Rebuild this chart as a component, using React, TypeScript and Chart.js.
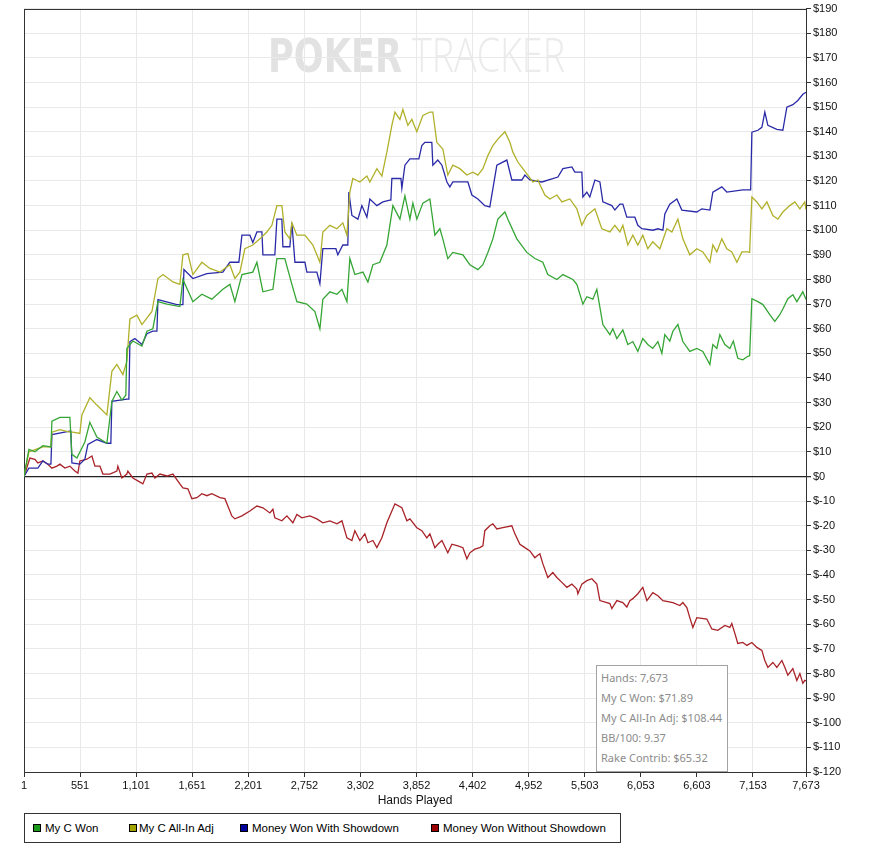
import React, { useEffect, useRef } from 'react';
import { Chart, registerables } from 'chart.js';

Chart.register(...registerables);

// ---- Axis ticks ----
const xTickValues = [1, 551, 1101, 1651, 2201, 2752, 3302, 3852, 4402, 4952, 5503, 6053, 6603, 7153, 7673];
const yMin = -120;
const yMax = 190;
const yStep = 10;

// ---- Series: My C Won ----
const wonHands = [1, 10, 49, 108, 186, 265, 275, 353, 451, 471, 520, 598, 647, 716, 795, 814, 863, 912, 961, 1000, 1010, 1069, 1158, 1207, 1265, 1315, 1403, 1530, 1560, 1658, 1746, 1844, 1952, 2021, 2070, 2139, 2246, 2286, 2345, 2443, 2482, 2560, 2629, 2678, 2776, 2855, 2904, 2933, 3002, 3071, 3120, 3169, 3198, 3247, 3326, 3375, 3424, 3492, 3561, 3620, 3689, 3738, 3787, 3816, 3855, 3914, 3983, 4002, 4032, 4081, 4110, 4159, 4208, 4307, 4375, 4454, 4503, 4552, 4601, 4650, 4719, 4748, 4836, 4934, 5013, 5091, 5140, 5229, 5288, 5386, 5425, 5484, 5523, 5582, 5621, 5680, 5749, 5778, 5817, 5876, 5925, 5974, 6023, 6072, 6121, 6170, 6220, 6259, 6288, 6337, 6367, 6416, 6465, 6533, 6602, 6661, 6730, 6759, 6798, 6828, 6877, 6926, 6960, 7004, 7053, 7102, 7120, 7142, 7201, 7250, 7318, 7367, 7416, 7446, 7495, 7544, 7583, 7642, 7673];
const wonValues = [0, 0, 11, 10, 12.5, 12, 22.5, 24, 24, 9, 7.5, 14, 22, 16, 14, 13.5, 30.5, 34.5, 31, 33, 52, 55, 53, 59, 60, 71, 70, 69, 80, 71, 74, 72, 76, 78, 71, 82, 83, 87, 75, 76, 88.5, 88.5, 78, 71, 70, 67, 60, 72, 75, 74, 76, 71, 88.5, 82, 83, 79, 86, 87, 94, 110, 104.5, 114, 104.5, 111, 104.5, 111, 112.7, 107, 98, 100.6, 96.5, 88.5, 91, 90, 86, 84, 86, 91, 96.5, 104.5, 107.4, 104.5, 96.5, 91, 88.5, 87, 82, 80, 82, 80, 78, 70, 73, 72, 76, 61.7, 57.6, 60, 56, 59.5, 53.6, 54.8, 50.8, 56, 53.6, 52, 54.8, 50, 57.6, 55, 59, 61.7, 54.8, 50.8, 52, 50.8, 45.5, 53.6, 52, 57.6, 53.6, 52, 55, 48, 47.4, 48.8, 49, 72.2, 71, 69.8, 65.7, 63, 65.7, 68, 72.2, 73.8, 71, 75, 71.89];

// ---- Series: My C All-In Adj ----
const allInHands = [1, 49, 186, 265, 275, 353, 451, 480, 549, 569, 647, 716, 814, 863, 912, 971, 1010, 1040, 1109, 1158, 1256, 1315, 1364, 1462, 1530, 1560, 1609, 1658, 1746, 1825, 1923, 2021, 2070, 2119, 2168, 2246, 2315, 2384, 2433, 2482, 2531, 2560, 2609, 2629, 2678, 2757, 2835, 2904, 2933, 3002, 3071, 3129, 3169, 3198, 3227, 3296, 3365, 3394, 3463, 3512, 3561, 3610, 3640, 3689, 3718, 3767, 3806, 3855, 3914, 3983, 4012, 4051, 4110, 4159, 4208, 4277, 4346, 4405, 4454, 4503, 4552, 4601, 4650, 4719, 4768, 4797, 4846, 4895, 4944, 4993, 5042, 5111, 5160, 5229, 5278, 5356, 5425, 5474, 5523, 5602, 5670, 5749, 5798, 5847, 5876, 5925, 5974, 6023, 6072, 6121, 6170, 6239, 6308, 6357, 6416, 6465, 6533, 6602, 6661, 6730, 6759, 6798, 6847, 6896, 6945, 6995, 7044, 7102, 7120, 7142, 7191, 7240, 7289, 7348, 7397, 7446, 7514, 7564, 7613, 7661, 7673];
const allInValues = [0, 10, 12, 12, 18, 19, 18, 18, 17.5, 25, 32, 29, 25, 42.7, 45.5, 41.4, 46.7, 64, 65.5, 61.7, 67, 80.4, 82, 79, 78, 90, 90.5, 82, 87, 84.5, 83, 86, 80.4, 83, 92.5, 94, 96.5, 99.3, 102, 110, 110, 99.3, 96.5, 103, 98, 98, 94, 87, 99.3, 102, 100.6, 103, 98, 115.5, 121, 119.6, 122, 119.6, 125, 122, 131.7, 142.6, 148, 145, 149, 142.6, 145, 140, 146.6, 148, 148, 135.7, 133, 122.4, 126.4, 125, 122.4, 123.6, 122.4, 125, 130.3, 134.4, 137, 140, 135.7, 131.7, 127.7, 125, 122.4, 119.6, 120.4, 114.3, 112.7, 114.3, 111.5, 112.7, 108.7, 102, 106, 108.7, 100.6, 99.3, 102, 99.3, 102, 94, 98, 94, 98, 92.5, 95.3, 92.5, 100.6, 99.3, 104.5, 96.5, 90, 92.5, 91.2, 87, 94, 91.2, 96.5, 92.5, 91.2, 87, 91.2, 91.2, 91, 113.5, 111.5, 108.7, 111.5, 106, 104.5, 107.4, 110, 111.5, 108.7, 111.5, 108.44];

// ---- Series: Money Won With Showdown ----
const sdHands = [1, 49, 137, 186, 235, 265, 275, 451, 461, 471, 549, 598, 628, 716, 814, 853, 863, 1010, 1030, 1040, 1089, 1158, 1207, 1265, 1305, 1315, 1501, 1560, 1570, 1658, 1795, 1952, 2021, 2109, 2139, 2217, 2246, 2286, 2335, 2345, 2462, 2482, 2531, 2541, 2609, 2629, 2659, 2757, 2776, 2874, 2904, 2933, 3061, 3080, 3129, 3178, 3188, 3218, 3277, 3316, 3365, 3394, 3463, 3522, 3590, 3600, 3610, 3699, 3708, 3738, 3787, 3875, 3904, 3934, 4002, 4012, 4061, 4101, 4150, 4179, 4208, 4356, 4395, 4454, 4522, 4571, 4640, 4738, 4787, 4885, 4915, 4964, 5082, 5239, 5288, 5376, 5405, 5474, 5484, 5523, 5552, 5602, 5651, 5680, 5768, 5798, 5847, 5876, 5915, 5994, 6023, 6063, 6170, 6220, 6269, 6288, 6337, 6406, 6455, 6602, 6651, 6730, 6759, 6847, 6896, 7053, 7130, 7142, 7201, 7240, 7269, 7299, 7387, 7446, 7485, 7544, 7593, 7642, 7673];
const sdValues = [0, 3.4, 3.4, 6.3, 5, 5, 17, 18.4, 18.4, 5.5, 5, 7, 13, 15, 13.5, 13.5, 30.5, 31.4, 31.4, 54.8, 56, 53.6, 58, 59, 59, 71.8, 69.8, 69.8, 84, 80.4, 82.4, 83, 87, 87, 98, 98, 95, 99.3, 99.3, 90, 90, 104.5, 104.5, 93.3, 93.3, 103, 87, 87, 83, 83, 78.3, 92.5, 92.5, 90, 94, 94, 115.5, 106, 104.5, 110, 105.3, 112.7, 110, 111.5, 112.2, 112.2, 121, 121, 117, 126.4, 129, 129, 134.4, 135.7, 135.7, 126.4, 128.5, 126.4, 119.6, 117.6, 119.6, 119.6, 114.3, 112.7, 110, 109.5, 126.4, 128.5, 120.4, 120.4, 122.4, 120.4, 119.6, 121.6, 125, 125.7, 123.6, 123.6, 113.5, 115.5, 113.5, 120.4, 119.6, 111.5, 110, 108.2, 110.6, 110.6, 105.3, 105.3, 102, 100.6, 100, 100.6, 100, 106.6, 110.6, 112.7, 108.2, 107.4, 108.7, 108.2, 115.5, 117.6, 115.5, 116.4, 116.4, 139.8, 140.6, 141.8, 148, 142.6, 141, 140.6, 150, 151, 152.7, 155.2, 156];

// ---- Series: Money Won Without Showdown ----
const nsdHands = [1, 59, 108, 137, 186, 235, 275, 324, 353, 402, 451, 500, 530, 549, 618, 667, 697, 746, 775, 844, 912, 922, 961, 1010, 1020, 1069, 1118, 1167, 1207, 1256, 1285, 1334, 1403, 1462, 1530, 1560, 1609, 1648, 1697, 1746, 1795, 1844, 1923, 1972, 2040, 2070, 2139, 2217, 2286, 2345, 2413, 2443, 2462, 2531, 2580, 2639, 2678, 2727, 2806, 2874, 2933, 3002, 3071, 3120, 3169, 3218, 3247, 3296, 3345, 3375, 3424, 3463, 3512, 3561, 3610, 3640, 3708, 3757, 3787, 3855, 3904, 3953, 3983, 4032, 4061, 4101, 4159, 4199, 4258, 4307, 4346, 4375, 4424, 4473, 4503, 4522, 4571, 4601, 4640, 4699, 4787, 4817, 4866, 4915, 4964, 5013, 5042, 5062, 5091, 5140, 5189, 5229, 5278, 5327, 5376, 5425, 5435, 5474, 5523, 5572, 5621, 5651, 5719, 5749, 5768, 5817, 5876, 5915, 5945, 5974, 6023, 6072, 6112, 6170, 6220, 6269, 6367, 6435, 6465, 6504, 6533, 6563, 6602, 6700, 6749, 6808, 6877, 6926, 6945, 6975, 7004, 7053, 7093, 7142, 7191, 7240, 7269, 7299, 7348, 7387, 7436, 7465, 7495, 7544, 7583, 7613, 7642, 7661, 7673];
const nsdValues = [0, 7.5, 7, 5.5, 6.3, 5, 3.4, 4.2, 5, 3.4, 4.2, 2.2, 1.4, 6.3, 7, 8.3, 4.2, 4.2, 1, 1, 2.2, 4.2, -0.6, 1, 2.2, -0.6, -1.8, -3, 1, 1.4, -0.6, 1, 0.2, 1, -3, -4.6, -5, -9, -8.6, -7, -7.8, -7, -8.6, -9, -16, -17.2, -16, -14, -12, -12.7, -14.8, -13.3, -16.8, -18, -16, -18.8, -15.4, -16.8, -16, -17.2, -18.8, -18, -19.2, -18, -24.9, -26, -22, -26, -23.3, -26.9, -26, -28.9, -24.9, -18.8, -14, -11.1, -12.7, -18, -17.2, -20.8, -22, -24.9, -23.3, -28.9, -27.5, -26, -31, -27.5, -28.2, -28.9, -33.4, -31, -29.5, -28.9, -28.2, -22, -20, -19.2, -21.3, -20.8, -20, -23.3, -27.5, -28.9, -30.2, -33, -32, -31.4, -35.4, -41, -39, -41, -43, -45, -43.7, -45.7, -47.6, -43.7, -42.3, -41.5, -43.7, -50.4, -51.2, -51.6, -53.6, -50.4, -51.2, -53, -50.4, -49.6, -47.6, -45, -50.4, -47.2, -48.4, -50.4, -51.2, -52.4, -51.2, -53.2, -57.3, -61.3, -57.3, -57.9, -61.9, -62.5, -60.5, -61.3, -59.7, -63.7, -67.8, -67.4, -68.6, -67.4, -69.4, -70.6, -74.7, -77.5, -75.5, -77.5, -74.7, -77.5, -80.7, -78, -82.8, -80, -84, -82.8, -83];

// ---- Legend / info text ----
const seriesNames = ['My C Won', 'My C All-In Adj', 'Money Won With Showdown', 'Money Won Without Showdown'];
const lineColors = ['#35a535', '#b0b02a', '#2a2aa8', '#a82228'];
const legendSwatch = ['#1c9a1c', '#a3a300', '#00009a', '#9a0000'];
const infoLines = ['Hands: 7,673', 'My C Won: $71.89', 'My C All-In Adj: $108.44', 'BB/100: 9.37', 'Rake Contrib: $65.32'];

const toPoints = (hs: number[], vs: number[]) => hs.map((h, i) => ({ x: h, y: vs[i] }));

const TICK_FONT = { family: '"Liberation Sans", Arial, sans-serif', size: 11 };

const framePlugin = {
  id: 'frame',
  beforeDatasetsDraw(chart: any) {
    const { ctx, chartArea: a } = chart;
    ctx.save();
    ctx.strokeStyle = '#333';
    ctx.lineWidth = 1;
    ctx.strokeRect(Math.round(a.left) + 0.5, Math.round(a.top) + 0.5, Math.round(a.right - a.left), Math.round(a.bottom - a.top));
    ctx.restore();
  },
};

const watermarkPlugin = {
  id: 'watermark',
  beforeDraw(chart: any) {
    const { ctx } = chart;
    ctx.save();
    ctx.textBaseline = 'alphabetic';
    const drawFit = (text: string, font: string, color: string, x: number, w: number, base: number) => {
      ctx.font = font;
      ctx.fillStyle = color;
      const m = ctx.measureText(text).width;
      ctx.save();
      ctx.translate(x, base);
      ctx.scale(w / m, 1);
      ctx.fillText(text, 0, 0);
      ctx.restore();
    };
    drawFit('POKER', 'bold 47px "DejaVu Sans", sans-serif', '#e2e2e2', 268, 134, 72);
    drawFit('TRACKER', '300 47px "Open Sans", "Lato", sans-serif', '#ebebeb', 412, 153, 72);
    ctx.restore();
  },
};

export default function App() {
  const canvasRef = useRef<HTMLCanvasElement>(null);

  useEffect(() => {
    const seriesData = [
      toPoints(wonHands, wonValues),
      toPoints(allInHands, allInValues),
      toPoints(sdHands, sdValues),
      toPoints(nsdHands, nsdValues),
    ];
    const chart = new Chart(canvasRef.current as HTMLCanvasElement, {
      type: 'line',
      data: {
        datasets: seriesData.map((d, i) => ({
          label: seriesNames[i],
          data: d,
          borderColor: lineColors[i],
          backgroundColor: lineColors[i],
          borderWidth: 1.3,
          pointRadius: 0,
          tension: 0,
          fill: false,
        })),
      },
      options: {
        animation: false,
        responsive: false,
        parsing: false as any,
        layout: { padding: { left: 24, top: 6, right: 0, bottom: 40 } },
        plugins: {
          legend: { display: false },
          tooltip: { enabled: false },
        },
        scales: {
          x: {
            type: 'linear',
            min: 1,
            max: 7673,
            position: 'bottom',
            afterBuildTicks: (s: any) => {
              s.ticks = xTickValues.map((v) => ({ value: v }));
            },
            afterFit: (s: any) => {
              s.height = 36;
            },
            ticks: {
              autoSkip: false,
              maxRotation: 0,
              padding: 2,
              font: TICK_FONT,
              color: '#111',
              callback: (v: any) => Number(v).toLocaleString('en-US'),
            },
            grid: { color: '#e9e9e9', tickColor: '#333', tickLength: 5 },
            border: { color: '#333' },
            title: {
              display: true,
              text: 'Hands Played',
              font: { family: '"Liberation Sans", Arial, sans-serif', size: 12 },
              color: '#111',
              padding: { top: 0, bottom: 0 },
            },
          },
          y: {
            type: 'linear',
            min: yMin,
            max: yMax,
            position: 'right',
            afterFit: (s: any) => {
              s.width = 77;
            },
            ticks: {
              stepSize: yStep,
              autoSkip: false,
              padding: 2,
              font: TICK_FONT,
              color: '#111',
              callback: (v: any) => '$' + v,
            },
            grid: {
              color: (c: any) => (c.tick && c.tick.value === 0 ? '#222' : '#e9e9e9'),
              lineWidth: (c: any) => (c.tick && c.tick.value === 0 ? 1.3 : 1),
              tickColor: '#333',
              tickLength: 5,
            },
            border: { color: '#333' },
          },
        },
      },
      plugins: [watermarkPlugin, framePlugin],
    } as any);
    return () => chart.destroy();
  }, []);

  const legendPos = [
    { sq: 33, tx: 45 },
    { sq: 129, tx: 139 },
    { sq: 240, tx: 252 },
    { sq: 431, tx: 443 },
  ];

  return (
    <div style={{ position: 'absolute', left: 0, top: 0, width: 883, height: 848, background: '#fff', overflow: 'hidden' }}>
      <canvas ref={canvasRef} width={883} height={848} style={{ display: 'block', width: 883, height: 848 }} />
      <div
        style={{
          position: 'absolute',
          left: 596,
          top: 665,
          width: 132,
          height: 107,
          border: '1px solid #a3a3a3',
          background: '#fff',
          boxSizing: 'border-box',
          fontFamily: '"Noto Sans", sans-serif',
          fontSize: 11,
          color: '#8c8c8c',
        }}
      >
        {infoLines.map((t, i) => (
          <div key={i} style={{ position: 'absolute', left: 4, top: 4 + i * 20, lineHeight: '16px', whiteSpace: 'nowrap' }}>
            {t}
          </div>
        ))}
      </div>
      <div
        style={{
          position: 'absolute',
          left: 24,
          top: 813,
          width: 597,
          height: 30,
          border: '1px solid #333',
          boxSizing: 'border-box',
          background: '#fff',
          fontFamily: '"Liberation Sans", Arial, sans-serif',
          fontSize: 11.5,
          color: '#000',
        }}
      >
        {seriesNames.map((n, i) => (
          <React.Fragment key={i}>
            <div
              style={{
                position: 'absolute',
                left: legendPos[i].sq - 25,
                top: 10,
                width: 8,
                height: 8,
                boxSizing: 'border-box',
                border: '1px solid #000',
                background: legendSwatch[i],
              }}
            />
            <div style={{ position: 'absolute', left: legendPos[i].tx - 25, top: 6, lineHeight: '16px', whiteSpace: 'nowrap' }}>{n}</div>
          </React.Fragment>
        ))}
      </div>
    </div>
  );
}
